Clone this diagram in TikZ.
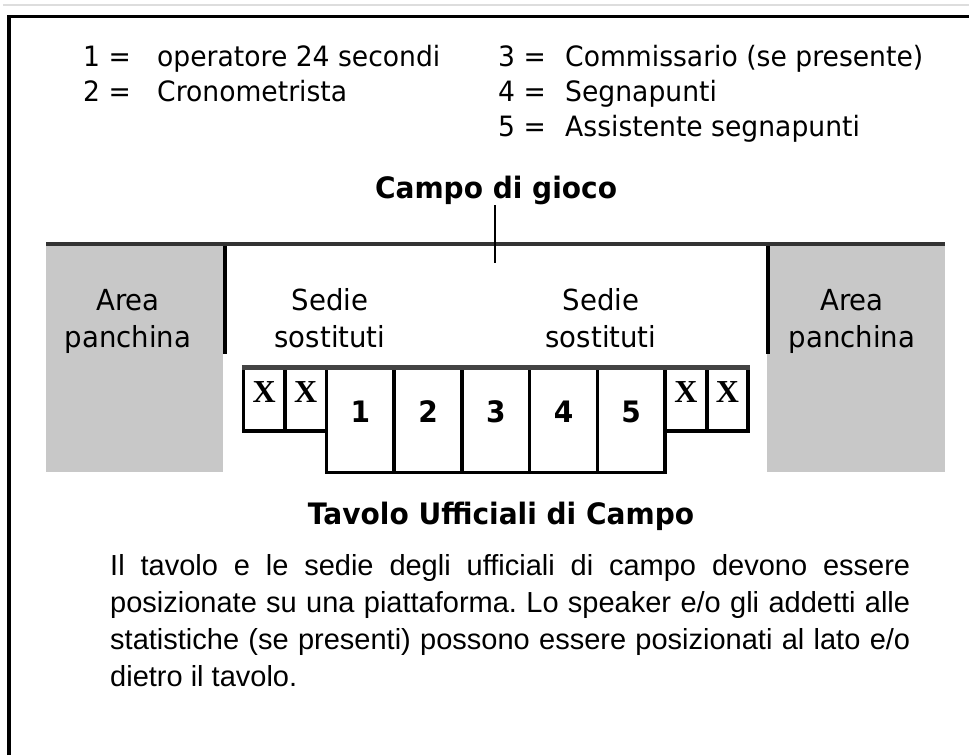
\documentclass[tikz,border=0pt]{standalone}
\usepackage{fontspec}
\setmainfont{Liberation Sans}
\newfontfamily\tah[FakeStretch=0.95]{DejaVu Sans}
\newfontfamily\xser{Liberation Serif}
\definecolor{bench}{HTML}{C8C8C8}
\definecolor{rulegray}{HTML}{333333}
\definecolor{tablegray}{HTML}{444444}
\definecolor{topgray}{HTML}{DDDDDD}
\frenchspacing
\begin{document}
\begin{tikzpicture}[x=1pt,y=-1pt,
  leg/.style={font=\tah\fontsize{28}{30}\selectfont, anchor=base west, inner sep=0pt},
  lbl/.style={font=\tah\fontsize{29}{31}\selectfont, anchor=base, inner sep=0pt},
  ttl/.style={font=\tah\bfseries\fontsize{29.5}{32}\selectfont, anchor=base, inner sep=0pt},
  num/.style={font=\tah\bfseries\fontsize{29.5}{32}\selectfont, anchor=center, inner sep=0pt},
  xmark/.style={font=\xser\bfseries\fontsize{32}{35}\selectfont, anchor=center, inner sep=0pt},
  cellline/.style={draw=black, line width=3.5pt, line join=miter},
  para/.style={font=\fontsize{29}{37}\selectfont, anchor=base west, inner sep=0pt}]
\useasboundingbox (0,0) rectangle (969,755);
% top gray line and frame
\draw[topgray, line width=1.2pt] (3,5) -- (969,5);
\draw[line width=3.7pt, line join=miter] (9,755) -- (9,16.5) -- (969,16.5);
% legend
\node[leg] (l1n) at (83,66) {1 =};
\node[leg] (l1t) at (157,66) {operatore 24 secondi};
\node[leg] (l2n) at (83,101) {2 =};
\node[leg] (l2t) at (157,101) {Cronometrista};
\node[leg] (l3n) at (498,66) {3 =};
\node[leg] (l3t) at (565,66) {Commissario (se presente)};
\node[leg] (l4n) at (498,101) {4 =};
\node[leg] (l4t) at (565,101) {Segnapunti};
\node[leg] (l5n) at (498,136) {5 =};
\node[leg] (l5t) at (565,136) {Assistente segnapunti};
% field
\node[ttl] (campo) at (496,198) {Campo di gioco};
\fill[bench] (46,246) rectangle (223,472);
\fill[bench] (767,246) rectangle (945,472);
\draw[rulegray, line width=4.5pt] (46,244) -- (945,244);
\draw[line width=3.5pt] (225,246) -- (225,354);
\draw[line width=3.5pt] (768,246) -- (768,354);
\coordinate (tickbot) at (495,263);
\draw[line width=2pt] (495,205) -- (tickbot);
% labels
\node[lbl] (a1) at (128,310) {Area};
\node[lbl] (a1b) at (128,347) {panchina};
\node[lbl] (a2) at (852,310) {Area};
\node[lbl] (a2b) at (852,347) {panchina};
\node[lbl] (s1) at (330,310) {Sedie};
\node[lbl] (s1b) at (330,347) {sostituti};
\node[lbl] (s2) at (601,310) {Sedie};
\node[lbl] (s2b) at (601,347) {sostituti};
% table
\draw[cellline] (243.5,367.5) rectangle (285,431);
\draw[cellline] (285,367.5) rectangle (326.5,431);
\draw[cellline] (665,367.5) rectangle (707,431);
\draw[cellline] (707,367.5) rectangle (748,431);
\foreach \i in {0,...,4} {
  \draw[cellline] ({326.5+67.7*\i},367.5) rectangle ({326.5+67.7*(\i+1)},472.5);
}
\draw[tablegray, line width=4.2pt] (241.75,367.5) -- (749.75,367.5);
\node[xmark] (x1) at (264.3,392) {X};
\node[xmark] (x2) at (305.8,392) {X};
\node[xmark] (x3) at (686,392) {X};
\node[xmark] (x4) at (727.5,392) {X};
\node[num] (n1) at (360.4,412) {1};
\node[num] (n2) at (428.1,412) {2};
\node[num] (n3) at (495.8,412) {3};
\node[num] (n4) at (563.5,412) {4};
\node[num] (n5) at (631.2,412) {5};
\node[ttl] (tavolo) at (501,524) {Tavolo Ufficiali di Campo};
% paragraph
\node[para] (p1) at (110,575) {\makebox[800pt][s]{Il tavolo e le sedie degli ufficiali di campo devono essere}};
\node[para] (p2) at (110,612.3) {\makebox[800pt][s]{posizionate su una piattaforma. Lo speaker e/o gli addetti alle}};
\node[para] (p3) at (110,649.6) {\makebox[800pt][s]{statistiche (se presenti) possono essere posizionati al lato e/o}};
\node[para] (p4) at (110,686.9) {dietro il tavolo.};
\end{tikzpicture}
\end{document}
